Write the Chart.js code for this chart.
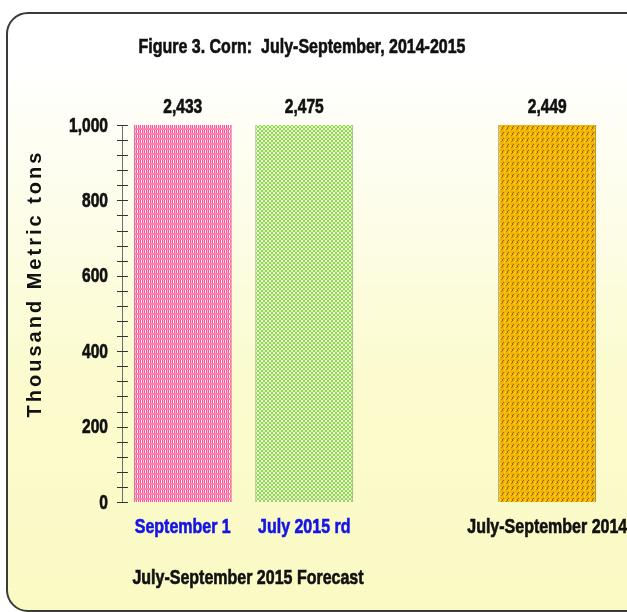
<!DOCTYPE html>
<html>
<head>
<meta charset="utf-8">
<script src="https://cdn.jsdelivr.net/npm/chart.js@4.4.1/dist/chart.umd.min.js"></script>
<style>
  html, body { margin: 0; padding: 0; background: #fff; overflow: hidden; }
  #wrap { position: relative; width: 627px; height: 612px; }
  #panel {
    position: absolute; left: 6px; top: 12px; width: 660px; height: 596px;
    border: 2px solid #3a3a3a; border-radius: 22px;
    background: linear-gradient(to bottom, #ffffff 0%, #ffffff 8%, #fdfde8 35%, #fbfbcf 60%, #fafac4 100%);
  }
  canvas { position: absolute; left: 0; top: 0; }
</style>
</head>
<body>
<div id="wrap">
  <div id="panel"></div>
  <canvas id="cornChart" width="627" height="612"></canvas>
</div>
<script>
// data
var categories = ["September 1", "July 2015 rd", "", "July-September 2014"];
var values = [2433, 2475, null, 2449];
var labelColors = ["#1414e6", "#1414e6", "#111", "#111"];
var yTickValues = [0, 200, 400, 600, 800, 1000];
var titleText = "Figure 3. Corn:  July-September, 2014-2015";
var yTitle = "Thousand Metric tons";
var groupLabel = "July-September 2015 Forecast";

var sans = "'Liberation Sans', Arial, sans-serif";

// Arial Narrow look: bold Arial squeezed sideways
function narrowText(ctx, text, x, y, size, color, align) {
  ctx.save();
  ctx.font = "bold " + size + "px " + sans;
  ctx.fillStyle = color;
  ctx.strokeStyle = color;
  ctx.lineWidth = 0.6;
  ctx.textBaseline = "middle";
  ctx.textAlign = align || "center";
  ctx.translate(x, y);
  ctx.scale(0.82, 1.06);
  ctx.fillText(text, 0, 0);
  ctx.strokeText(text, 0, 0);
  ctx.restore();
}

function makePattern(w, h, base, dots) {
  var c = document.createElement("canvas");
  c.width = w; c.height = h;
  var g = c.getContext("2d");
  g.fillStyle = base;
  g.fillRect(0, 0, w, h);
  dots.forEach(function (d) {
    g.fillStyle = d[4];
    g.fillRect(d[0], d[1], d[2], d[3]);
  });
  return g.createPattern(c, "repeat");
}

var pinkFill = makePattern(4, 5, "#ff4f92", [
  [1, 0, 1, 3, "#ffffff"],
  [3, 0, 1, 3, "#ffc4da"],
  [0, 3, 4, 2, "#ff7fb0"]
]);
var greenFill = makePattern(4, 4, "#94d850", [
  [1, 0, 2, 2, "#f2fce6"],
  [3, 2, 1, 2, "#d6f2b8"],
  [0, 2, 1, 2, "#d6f2b8"]
]);
var orangeFill = makePattern(5, 6, "#f2b400", [
  [3, 0, 1, 1, "#8f6600"],
  [2, 1, 1, 2, "#8f6600"],
  [1, 3, 1, 1, "#a87a00"],
  [0, 1, 1, 2, "#ffd030"],
  [4, 3, 1, 2, "#ffd030"]
]);
var fills = [pinkFill, greenFill, null, orangeFill];

var decor = {
  id: "decor",
  afterDraw: function (chart) {
    var ctx = chart.ctx;
    var area = chart.chartArea;
    var y = chart.scales.y;
    var x = chart.scales.x;
    var x0 = area.left;
    ctx.save();
    // axis line and tick marks
    ctx.strokeStyle = "#6e6e6e";
    ctx.lineWidth = 1;
    ctx.beginPath();
    ctx.moveTo(x0 + 0.5, y.getPixelForValue(1000));
    ctx.lineTo(x0 + 0.5, y.getPixelForValue(0));
    ctx.stroke();
    ctx.strokeStyle = "#333";
    for (var v = 0; v <= 1000; v += 40) {
      var py = Math.round(y.getPixelForValue(v)) + 0.5;
      ctx.beginPath();
      ctx.moveTo(x0 - 5, py);
      ctx.lineTo(x0 + 6, py);
      ctx.stroke();
    }
    ctx.restore();

    // y tick labels
    yTickValues.forEach(function (v) {
      narrowText(ctx, v.toLocaleString("en-US"), x0 - 14, y.getPixelForValue(v) + 1, 19, "#111", "right");
    });
    // x tick labels
    categories.forEach(function (c, i) {
      if (!c) return;
      narrowText(ctx, c, x.getPixelForTick(i), area.bottom + 25, 19.5, labelColors[i]);
    });
    // value labels above bars
    var meta = chart.getDatasetMeta(0);
    meta.data.forEach(function (bar, i) {
      if (values[i] == null) return;
      narrowText(ctx, values[i].toLocaleString("en-US"), bar.x, area.top - 18, 19, "#111");
    });
    // title and group label
    narrowText(ctx, titleText, 302, 47, 19.5, "#111");
    narrowText(ctx, groupLabel, 248, 578, 19.5, "#111");

    // y title
    ctx.save();
    ctx.translate(35, 285);
    ctx.rotate(-Math.PI / 2);
    ctx.font = "bold 20px " + sans;
    ctx.letterSpacing = "3px";
    ctx.fillStyle = "#111";
    ctx.textAlign = "center";
    ctx.textBaseline = "middle";
    ctx.fillText(yTitle, 1.5, 0);
    ctx.restore();
  }
};

var ctx = document.getElementById("cornChart");

var cornChart = new Chart(ctx, {
  type: "bar",
  data: {
    labels: categories,
    datasets: [
      {
        label: "Corn",
        data: values,
        backgroundColor: fills,
        borderColor: ["#c85a88", "#8fa878", "#000", "#8a7020"],
        borderWidth: { left: 1, right: 1, top: 0, bottom: 0 },
        borderSkipped: false,
        barPercentage: 0.806,
        categoryPercentage: 1.0
      }
    ]
  },
  options: {
    responsive: false,
    animation: false,
    layout: { padding: { left: 0, right: 19, top: 125, bottom: 0 } },
    plugins: {
      legend: { display: false },
      tooltip: { enabled: false }
    },
    scales: {
      x: {
        grid: { display: false },
        border: { display: false },
        ticks: { display: false },
        afterFit: function (s) { s.height = 110; }
      },
      y: {
        min: 0,
        max: 1000,
        afterFit: function (s) { s.width = 122; },
        afterBuildTicks: function (s) {
          s.ticks = yTickValues.map(function (v) { return { value: v }; });
        },
        grid: { display: false, drawTicks: false },
        border: { display: false },
        ticks: { display: false }
      }
    }
  },
  plugins: [decor]
});
</script>
</body>
</html>
